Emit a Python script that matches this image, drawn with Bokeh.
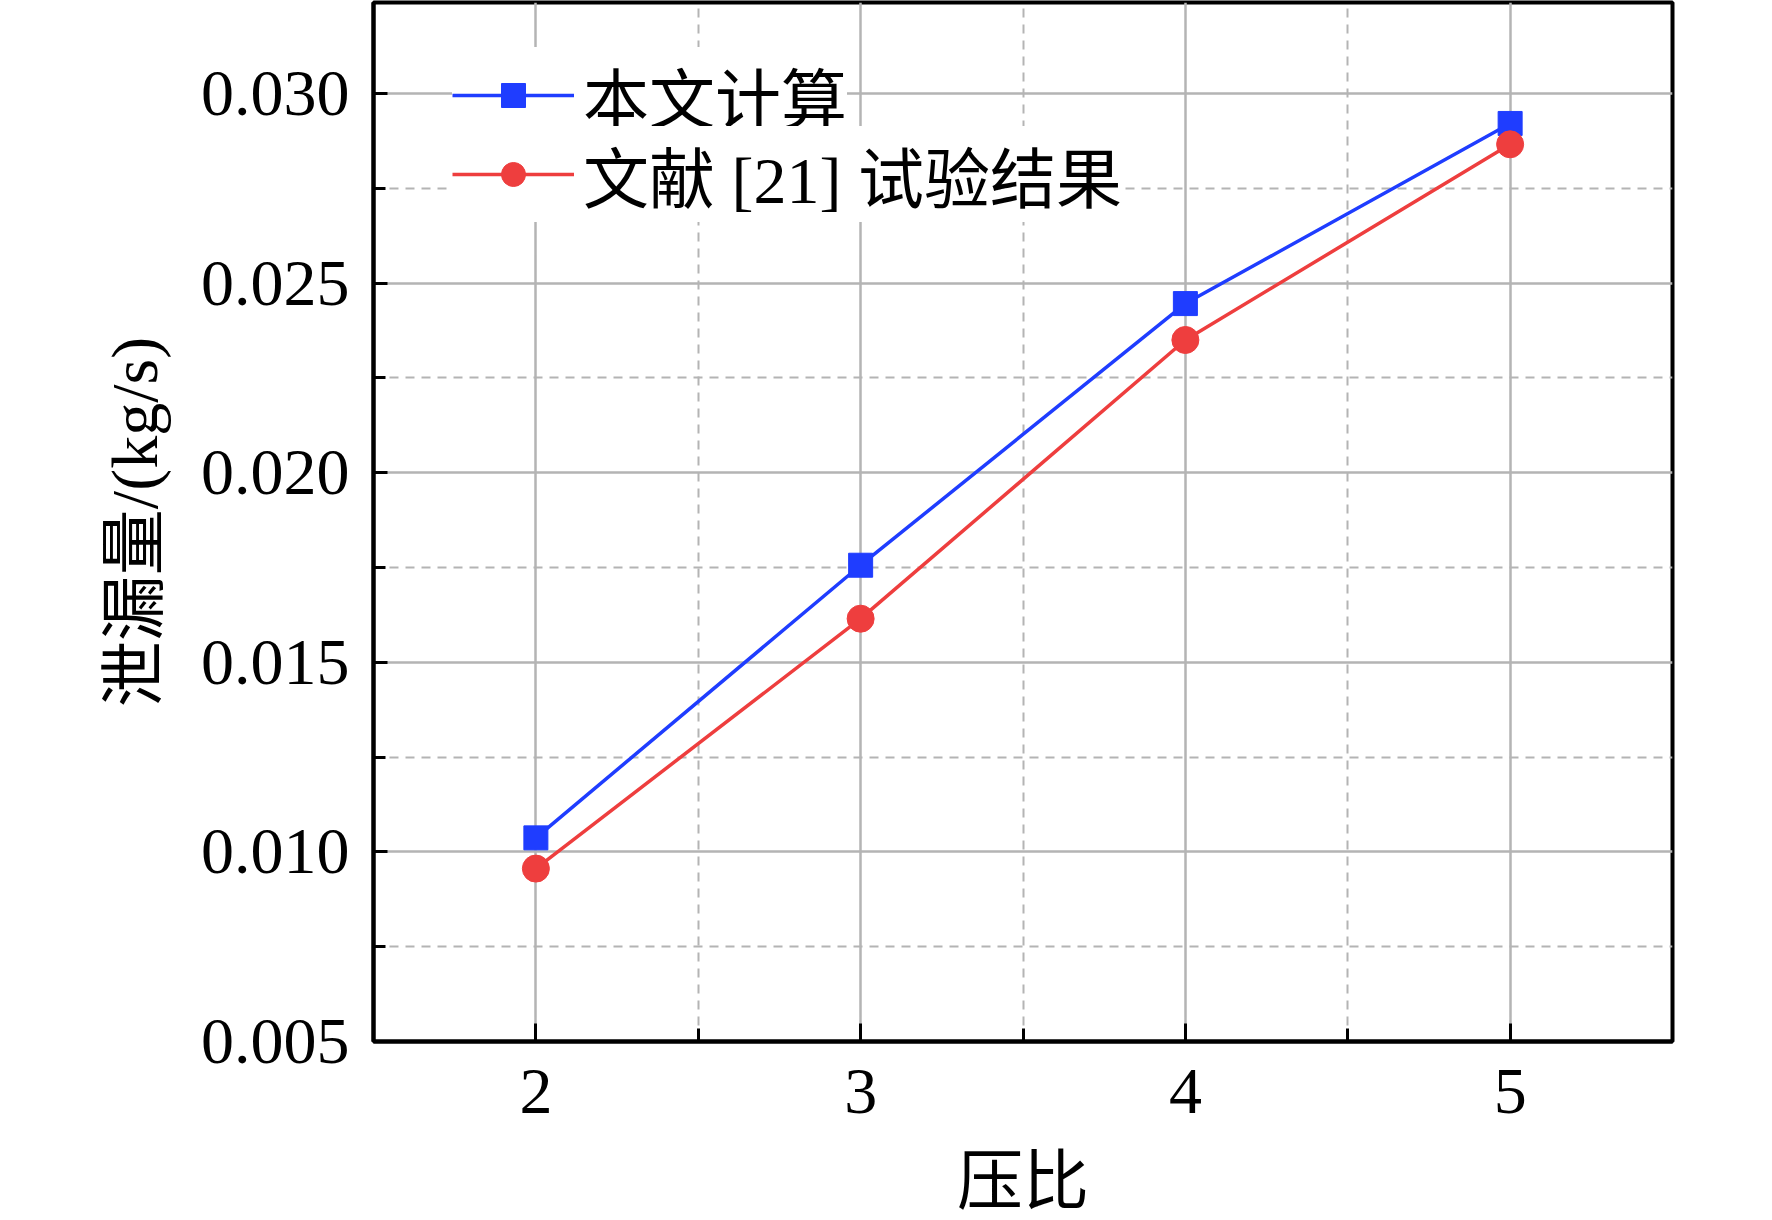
from bokeh.plotting import figure
from bokeh.models import FixedTicker, Legend, LegendItem
from bokeh.embed import file_html
from bokeh.resources import INLINE

# ---- data ----
pressure_ratio = [2, 3, 4, 5]
calc_leakage = [0.01037, 0.01756, 0.02446, 0.02921]
test_leakage = [0.00956, 0.01615, 0.02350, 0.02866]
series_names = ["本文计算", "文献 [21] 试验结果"]
x_ticks = [2, 3, 4, 5]
x_minor_ticks = [2.5, 3.5, 4.5]
y_ticks = [0.005, 0.010, 0.015, 0.020, 0.025, 0.030]
y_tick_labels = ["0.005", "0.010", "0.015", "0.020", "0.025", "0.030"]
y_minor_ticks = [0.0075, 0.0125, 0.0175, 0.0225, 0.0275]
x_label = "压比"
y_label = "泄漏量/(kg/s)"

FONT = "Liberation Serif, Noto Sans CJK SC"
FS = "66px"
BLUE = "#1f3dff"
RED = "#ee3e3e"
GRID = "#b4b4b4"

p = figure(frame_width=1299, frame_height=1039,
           x_range=(1.5, 5.5), y_range=(0.005, 0.0324),
           output_backend="svg", toolbar_location=None,
           min_border_left=373, min_border_top=2,
           min_border_right=20, min_border_bottom=150)
p.background_fill_color = "white"
p.border_fill_color = "white"
p.outline_line_color = "black"
p.outline_line_width = 4

# axes
for ax in (p.xaxis[0], p.yaxis[0]):
    ax.axis_line_color = "black"
    ax.axis_line_width = 4
    ax.major_tick_line_color = "black"
    ax.major_tick_line_width = 3
    ax.minor_tick_line_color = "black"
    ax.minor_tick_line_width = 3
    ax.major_tick_out = 0
    ax.minor_tick_out = 0
    ax.major_label_text_font = FONT
    ax.major_label_text_font_size = FS
    ax.major_label_text_color = "black"
    ax.axis_label_text_font = FONT
    ax.axis_label_text_font_size = FS
    ax.axis_label_text_font_style = "normal"
    ax.axis_label_text_color = "black"

p.xaxis.ticker = FixedTicker(ticks=x_ticks, minor_ticks=x_minor_ticks)
p.yaxis.ticker = FixedTicker(ticks=y_ticks, minor_ticks=y_minor_ticks)
p.yaxis.major_label_overrides = {t: l for t, l in zip(y_ticks, y_tick_labels)}
p.xaxis.major_tick_in = 18
p.xaxis.minor_tick_in = 13
p.yaxis.major_tick_in = 14
p.yaxis.minor_tick_in = 12
p.xaxis.major_label_standoff = 28
p.yaxis.major_label_standoff = 24
p.xaxis.axis_label = x_label
p.yaxis.axis_label = y_label
p.xaxis.axis_label_standoff = 29
p.yaxis.axis_label_standoff = 27

# grids
for g in (p.xgrid[0], p.ygrid[0]):
    g.grid_line_color = GRID
    g.grid_line_width = 2.5
    g.minor_grid_line_color = GRID
    g.minor_grid_line_width = 2
    g.minor_grid_line_dash = "9 7"

# series
lb = p.line(pressure_ratio, calc_leakage, line_color=BLUE, line_width=3.5)
sb = p.scatter(pressure_ratio, calc_leakage, marker="square", size=24,
               fill_color=BLUE, line_color=BLUE)
lr = p.line(pressure_ratio, test_leakage, line_color=RED, line_width=3.5)
sr = p.scatter(pressure_ratio, test_leakage, marker="circle", size=27,
               fill_color=RED, line_color=RED)


def make_legend(label, renderers, loc):
    lg = Legend(items=[LegendItem(label=label, renderers=renderers)], location=loc)
    lg.background_fill_color = "white"
    lg.background_fill_alpha = 1.0
    lg.border_line_color = None
    lg.label_text_font = FONT
    lg.label_text_font_size = FS
    lg.label_text_color = "black"
    lg.glyph_width = 122
    lg.glyph_height = 60
    lg.label_standoff = 9
    lg.padding = 8
    lg.spacing = 0
    lg.margin = 0
    return lg


p.add_layout(make_legend(series_names[0], [lb, sb], (79, 898)), "center")
p.add_layout(make_legend(series_names[1], [lr, sr], (79, 819)), "center")

open("out.html", "w").write(file_html(p, INLINE))
